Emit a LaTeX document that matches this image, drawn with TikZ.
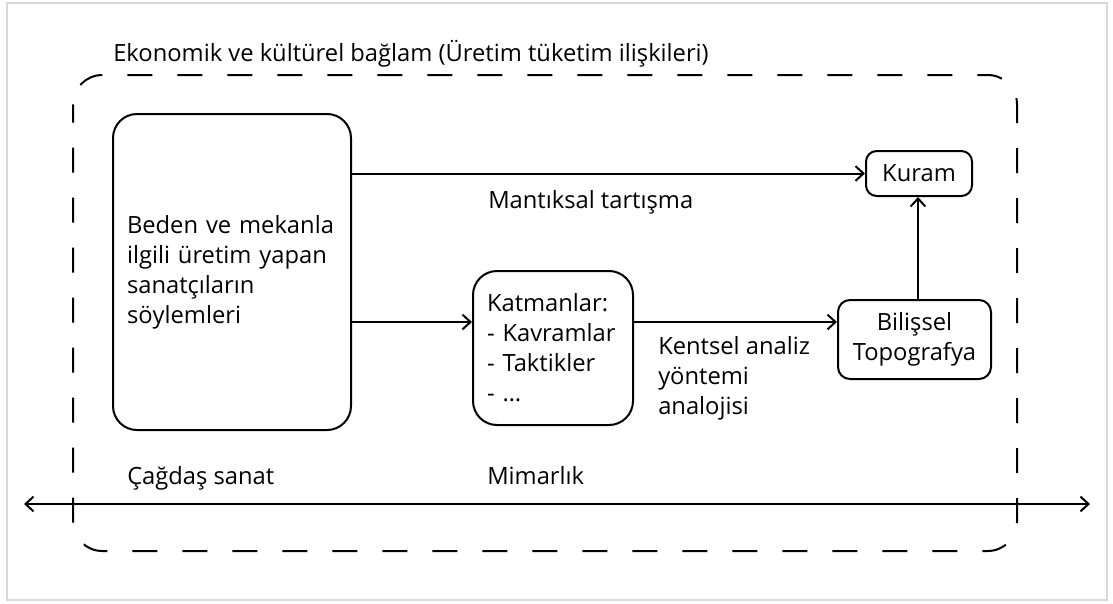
\documentclass[tikz,border=0pt]{standalone}
\usepackage{fontspec}
\setmainfont{Open Sans}
\usetikzlibrary{arrows.meta}
\begin{document}
\begin{tikzpicture}[x=0.75pt,y=-0.75pt,
  every node/.style={font=\fontsize{17.8pt}{22.5pt}\selectfont},
  lw/.style={line width=1.5pt},
  box/.style={lw,draw=black,rounded corners=#1,align=left},
  lbl/.style={inner sep=0pt,anchor=base west,align=left},
  arr/.style={lw,-{Straight Barb[length=6pt,width=11pt,line width=1.5pt]}},
  darr/.style={lw,{Straight Barb[length=6pt,width=11pt,line width=1.5pt]}-{Straight Barb[length=6pt,width=11pt,line width=1.5pt]}}]
\useasboundingbox (0,0) rectangle (1113,603);
\draw[black!15,line width=1.5pt] (7,3) rectangle (1107,600);
\draw[lw,dash pattern=on 18.75pt off 18.75pt,dash phase=5pt,rounded corners=22pt] (73,75) rectangle (1017,551);
\node[lbl] (title) at (113,61) {Ekonomik ve kültürel bağlam (Üretim tüketim ilişkileri)};
\node[box=18pt,minimum width=238*0.75pt,minimum height=316*0.75pt,text width=210*0.75pt,inner xsep=14*0.75pt] (big) at (232,272)
  {Beden ve mekanla\\ilgili üretim yapan\\sanatçıların\\söylemleri};
\node[box=18pt,minimum width=160*0.75pt,minimum height=154*0.75pt,text width=132*0.75pt,inner xsep=14*0.75pt] (kat) at (553,348)
  {Katmanlar:\\- Kavramlar\\- Taktikler\\- …};
\node[box=8pt,minimum width=106*0.75pt,minimum height=45*0.75pt,inner sep=0pt] (kuram) at (919,173.5) {Kuram};
\node[box=9pt,minimum width=153*0.75pt,minimum height=79*0.75pt,inner sep=0pt,align=center] (bil) at (914.5,339.5) {Bilişsel\\Topografya};
\node[lbl] (mant) at (488,208) {Mantıksal tartışma};
\node[lbl] (kent) at (658,414) {Kentsel analiz\\yöntemi\\analojisi};
\node[lbl] (cag) at (127,484) {Çağdaş sanat};
\node[lbl] (mim) at (487,484) {Mimarlık};
\coordinate (mid) at (0,322);
\coordinate (axl) at (24,504);
\coordinate (axr) at (1090,504);
\draw[arr] (big.east |- kuram.west) -- (kuram.west);
\draw[arr] (big.east |- mid) -- (kat.west |- mid);
\draw[arr] (kat.east |- mid) -- (bil.west |- mid);
\draw[arr] (kuram.south -| 918,0) ++(0,104) -- (kuram.south -| 918,0);
\draw[darr] (axl) -- (axr);
\end{tikzpicture}
\end{document}
